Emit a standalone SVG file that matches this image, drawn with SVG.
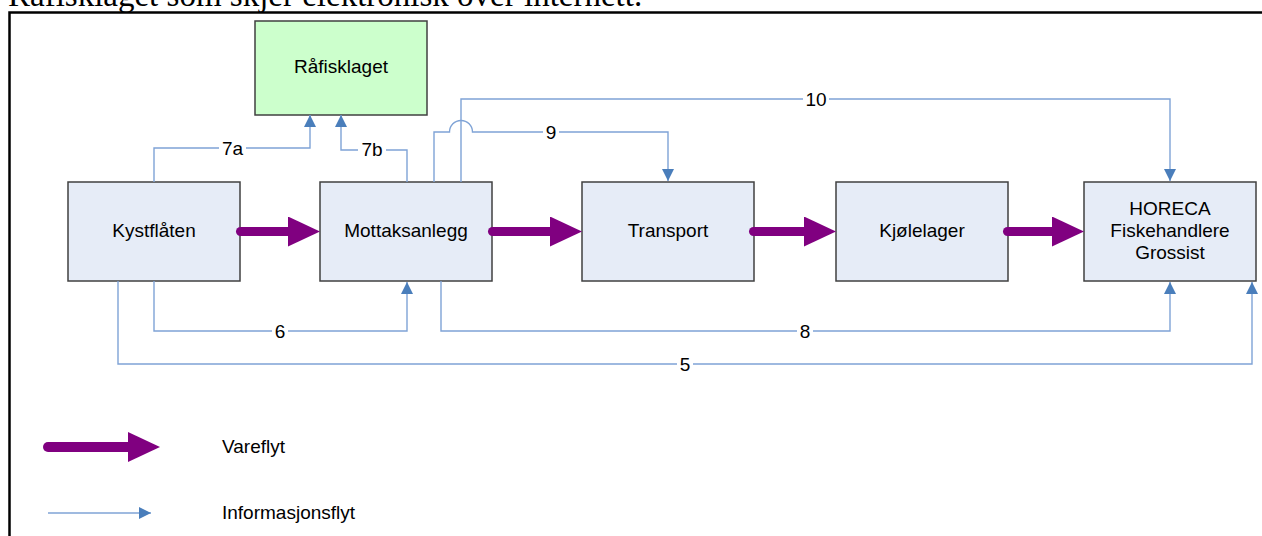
<svg xmlns="http://www.w3.org/2000/svg" width="1262" height="536" viewBox="0 0 1262 536">
<style>
  .box { fill: #E6ECF7; stroke: #404040; stroke-width: 1.5; }
  .green { fill: #CCFFCC; stroke: #404040; stroke-width: 1.5; }
  .t { font-family: "Liberation Sans", Arial, sans-serif; font-size: 19px; fill: #000; text-anchor: middle; }
  .lt { font-family: "Liberation Sans", Arial, sans-serif; font-size: 19px; fill: #000; }
  .info { fill: none; stroke: #7FA3D6; stroke-width: 1.4; marker-end: url(#ah); }
  .goods { fill: none; stroke: #800080; stroke-width: 9; stroke-linecap: round; marker-end: url(#big); }
  .bg { fill: #fff; }
</style>
<defs>
  <marker id="ah" markerUnits="userSpaceOnUse" markerWidth="12" markerHeight="12" refX="12" refY="6" orient="auto">
    <path d="M0,0 L12,6 L0,12 z" fill="#4A7EBB"/>
  </marker>
  <marker id="big" markerUnits="userSpaceOnUse" markerWidth="32" markerHeight="30" refX="2" refY="15" orient="auto">
    <path d="M0,0 L32,15 L0,30 z" fill="#800080"/>
  </marker>
</defs>
<rect width="1262" height="536" fill="#fff"/>
<text x="8" y="6" font-family="'Liberation Serif', 'Times New Roman', serif" font-size="33" fill="#000">Råfisklaget som skjer elektronisk over internett.</text>
<path d="M9.5,536 V12.5 H1262" fill="none" stroke="#000" stroke-width="2.5"/>

<g id="rafisklaget">
  <rect class="green" x="255" y="21" width="172" height="94"/>
  <text class="t" x="341" y="73">Råfisklaget</text>
</g>
<g id="kystflaten">
  <rect class="box" x="68" y="182" width="172" height="99"/>
  <text class="t" x="154" y="237">Kystflåten</text>
</g>
<g id="mottaksanlegg">
  <rect class="box" x="320" y="182" width="172" height="99"/>
  <text class="t" x="406" y="237">Mottaksanlegg</text>
</g>
<g id="transport">
  <rect class="box" x="582" y="182" width="172" height="99"/>
  <text class="t" x="668" y="237">Transport</text>
</g>
<g id="kjolelager">
  <rect class="box" x="836" y="182" width="172" height="99"/>
  <text class="t" x="922" y="237">Kjølelager</text>
</g>
<g id="horeca">
  <rect class="box" x="1084" y="182" width="172" height="99"/>
  <text class="t" x="1170" y="215">HORECA</text>
  <text class="t" x="1170" y="237">Fiskehandlere</text>
  <text class="t" x="1170" y="259">Grossist</text>
</g>

<g id="connectors">
  <path class="info" d="M154,182 V148 H310 V115"/>
  <path class="info" d="M407,182 V150 H341 V115"/>
  <path class="info" d="M461,182 V99 H1170 V181"/>
  <path class="info" d="M434,182 V132 H449.5 A11.5,11.5 0 0 1 472.5,132 H668 V181"/>
  <path class="info" d="M154,281 V331 H407 V282"/>
  <path class="info" d="M441,281 V331 H1170 V282"/>
  <path class="info" d="M118,281 V364 H1252 V282"/>
  <line class="goods" x1="240.5" y1="231.5" x2="290" y2="231.5"/>
  <line class="goods" x1="492.5" y1="231.5" x2="552" y2="231.5"/>
  <line class="goods" x1="753.5" y1="231.5" x2="806" y2="231.5"/>
  <line class="goods" x1="1007.5" y1="231.5" x2="1054" y2="231.5"/>
  <g id="labels">
    <rect class="bg" x="219" y="139" width="27" height="18"/><text class="t" x="232.5" y="155">7a</text>
    <rect class="bg" x="358" y="141" width="28" height="18"/><text class="t" x="372" y="156">7b</text>
    <rect class="bg" x="543" y="123" width="16" height="18"/><text class="t" x="551" y="138.5">9</text>
    <rect class="bg" x="803" y="90" width="26" height="18"/><text class="t" x="816" y="105.5">10</text>
    <rect class="bg" x="272" y="322" width="16" height="18"/><text class="t" x="280" y="337.5">6</text>
    <rect class="bg" x="797" y="322" width="16" height="18"/><text class="t" x="805" y="337.5">8</text>
    <rect class="bg" x="677" y="355" width="16" height="18"/><text class="t" x="685" y="370.5">5</text>
  </g>
</g>

<g id="legend">
  <line x1="48" y1="447" x2="130" y2="447" stroke="#800080" stroke-width="10" stroke-linecap="round" marker-end="url(#big)"/>
  <text class="lt" x="222" y="453">Vareflyt</text>
  <line x1="48" y1="513" x2="151" y2="513" stroke="#7FA3D6" stroke-width="1.4" marker-end="url(#ah)"/>
  <text class="lt" x="222" y="519">Informasjonsflyt</text>
</g>
</svg>
